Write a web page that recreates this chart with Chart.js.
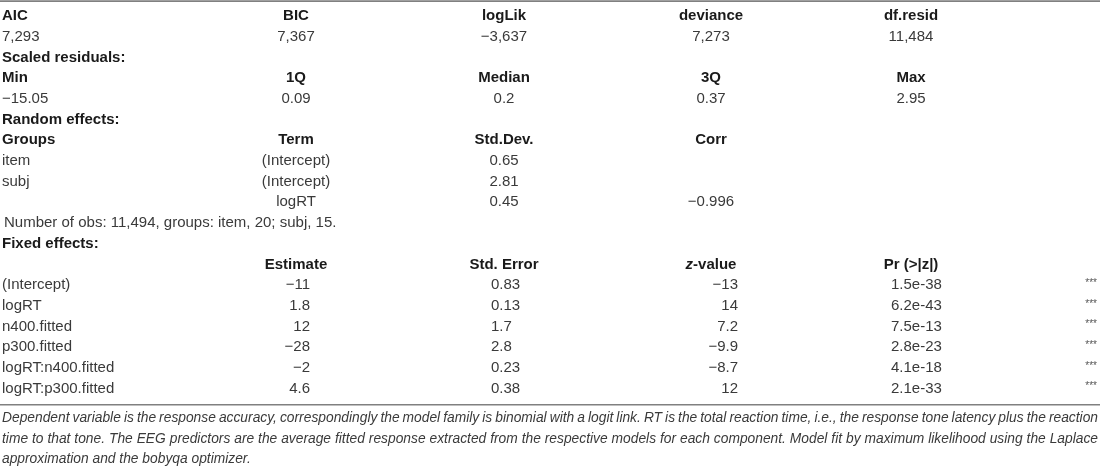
<!DOCTYPE html>
<html>
<head>
<meta charset="utf-8">
<script src="https://cdn.jsdelivr.net/npm/chart.js@4.4.0/dist/chart.umd.min.js"></script>
<style>
  html, body { margin: 0; background: #fff; }
  #contenedor { width: 1100px; height: 467px; }
</style>
</head>
<body>
<div id="contenedor"><canvas id="tabla"></canvas></div>
<script>
// datos del modelo
const fitHeaders = ["AIC", "BIC", "logLik", "deviance", "df.resid"];
const fitValues = ["7,293", "7,367", "\u22123,637", "7,273", "11,484"];

const residHeaders = ["Min", "1Q", "Median", "3Q", "Max"];
const residValues = [-15.05, 0.09, 0.2, 0.37, 2.95];

const randomHeaders = ["Groups", "Term", "Std.Dev.", "Corr"];
const randomGroups = ["item", "subj", ""];
const randomTerms = ["(Intercept)", "(Intercept)", "logRT"];
const randomSD = [0.65, 2.81, 0.45];
const randomCorr = [null, null, -0.996];
const obsNote = "Number of obs: 11,494, groups: item, 20; subj, 15.";

const fixedHeaders = ["Estimate", "Std. Error", "z-value", "Pr (>|z|)"];
const fixedTerms = ["(Intercept)", "logRT", "n400.fitted", "p300.fitted", "logRT:n400.fitted", "logRT:p300.fitted"];
const estimates = [-11, 1.8, 12, -28, -2, 4.6];
const stdErrors = [0.83, 0.13, 1.7, 2.8, 0.23, 0.38];
const zValues = [-13, 14, 7.2, -9.9, -8.7, 12];
const pValues = ["1.5e-38", "6.2e-43", "7.5e-13", "2.8e-23", "4.1e-18", "2.1e-33"];
const signif = ["***", "***", "***", "***", "***", "***"];

const captionLines = [
  "Dependent variable is the response accuracy, correspondingly the model family is binomial with a logit link. RT is the total reaction time, i.e., the response tone latency plus the reaction",
  "time to that tone. The EEG predictors are the average fitted response extracted from the respective models for each component. Model fit by maximum likelihood using the Laplace",
  "approximation and the bobyqa optimizer."
];

// columnas (posiciones en unidades del eje x)
const colCentros = [2, 296, 504, 711, 911];
const fijoHead = [296, 504, 711, 911];
const fijoVal = [[310, "right"], [491, "left"], [738, "right"], [891, "left"]];

const fmt = v => v == null ? "" : (v < 0 ? "\u2212" + String(-v) : String(v));

const celdas = [];
function celda(x, y, text, align, kind) {
  celdas.push({ x: x, y: y, text: text, align: align, kind: kind });
}

fitHeaders.forEach((h, i) => celda(colCentros[i], 0, h, i === 0 ? "left" : "center", "head"));
fitValues.forEach((v, i) => celda(colCentros[i], 1, v, i === 0 ? "left" : "center", "body"));
celda(2, 2, "Scaled residuals:", "left", "head");
residHeaders.forEach((h, i) => celda(colCentros[i], 3, h, i === 0 ? "left" : "center", "head"));
residValues.forEach((v, i) => celda(colCentros[i], 4, fmt(v), i === 0 ? "left" : "center", "body"));
celda(2, 5, "Random effects:", "left", "head");
randomHeaders.forEach((h, i) => celda(colCentros[i], 6, h, i === 0 ? "left" : "center", "head"));
randomGroups.forEach((g, r) => {
  celda(2, 7 + r, g, "left", "body");
  celda(colCentros[1], 7 + r, randomTerms[r], "center", "body");
  celda(colCentros[2], 7 + r, fmt(randomSD[r]), "center", "body");
  celda(colCentros[3], 7 + r, fmt(randomCorr[r]), "center", "body");
});
celda(4, 10, obsNote, "left", "body");
celda(2, 11, "Fixed effects:", "left", "head");
fixedHeaders.forEach((h, i) => celda(fijoHead[i], 12, h, "center", i === 2 ? "zhead" : "head"));
fixedTerms.forEach((t, r) => {
  const y = 13 + r;
  celda(2, y, t, "left", "body");
  celda(fijoVal[0][0], y, fmt(estimates[r]), fijoVal[0][1], "body");
  celda(fijoVal[1][0], y, fmt(stdErrors[r]), fijoVal[1][1], "body");
  celda(fijoVal[2][0], y, fmt(zValues[r]), fijoVal[2][1], "body");
  celda(fijoVal[3][0], y, pValues[r], fijoVal[3][1], "body");
  celda(1097, y, signif[r], "right", "stars");
});
captionLines.forEach((l, i) => celda(2, 19.45 + i * 0.97, l, i < 2 ? "justify" : "left", "caption"));

const fuentes = {
  head: "bold 15px 'Liberation Sans', Arial, sans-serif",
  body: "15px 'Liberation Sans', Arial, sans-serif",
  stars: "10px 'Liberation Sans', Arial, sans-serif",
  caption: "italic 13.8px 'Liberation Sans', Arial, sans-serif"
};
const colores = { head: "#1a1a1a", body: "#3a3a3a", stars: "#555", caption: "#3a3a3a", zhead: "#1a1a1a" };

const textoCeldas = {
  id: "textoCeldas",
  afterDatasetsDraw(chart) {
    const ctx = chart.ctx;
    const meta = chart.getDatasetMeta(0);
    const area = chart.chartArea;
    ctx.save();
    ctx.textBaseline = "middle";
    meta.data.forEach((el, i) => {
      const c = chart.data.datasets[0].data[i];
      if (!c.text) return;
      ctx.fillStyle = colores[c.kind];
      if (c.kind === "zhead") {
        const partes = [["z", "italic bold 15px 'Liberation Sans', Arial, sans-serif"], ["-value", fuentes.head]];
        let total = 0;
        partes.forEach(p => { ctx.font = p[1]; total += ctx.measureText(p[0]).width; });
        let x = el.x - total / 2;
        ctx.textAlign = "left";
        partes.forEach(p => { ctx.font = p[1]; ctx.fillText(p[0], x, el.y); x += ctx.measureText(p[0]).width; });
        return;
      }
      ctx.font = fuentes[c.kind];
      if (c.align === "justify") {
        const palabras = c.text.split(" ");
        let ancho = 0;
        palabras.forEach(p => { ancho += ctx.measureText(p).width; });
        const hueco = (area.right - 2 - el.x - ancho) / (palabras.length - 1);
        let x = el.x;
        ctx.textAlign = "left";
        palabras.forEach(p => { ctx.fillText(p, x, el.y); x += ctx.measureText(p).width + hueco; });
        return;
      }
      ctx.textAlign = c.align;
      ctx.fillText(c.text, el.x, el.y + (c.kind === "stars" ? -2 : 0));
    });
    ctx.restore();
  }
};

const linea = y => ({
  data: [{ x: 0, y: y }, { x: 1100, y: y }],
  showLine: true,
  borderColor: "#808080",
  borderWidth: 1.6,
  pointRadius: 0
});

new Chart(document.getElementById("tabla"), {
  type: "scatter",
  data: {
    datasets: [
      { data: celdas, pointRadius: 0, pointHoverRadius: 0 },
      linea(-0.72),
      linea(18.78)
    ]
  },
  options: {
    responsive: true,
    maintainAspectRatio: false,
    animation: false,
    devicePixelRatio: 1,
    layout: { padding: 0 },
    events: [],
    plugins: { legend: { display: false }, tooltip: { enabled: false } },
    scales: {
      x: { type: "linear", min: 0, max: 1100, display: false },
      y: { type: "linear", min: -0.773, max: 21.787, reverse: true, display: false }
    }
  },
  plugins: [textoCeldas]
});
</script>
</body>
</html>
